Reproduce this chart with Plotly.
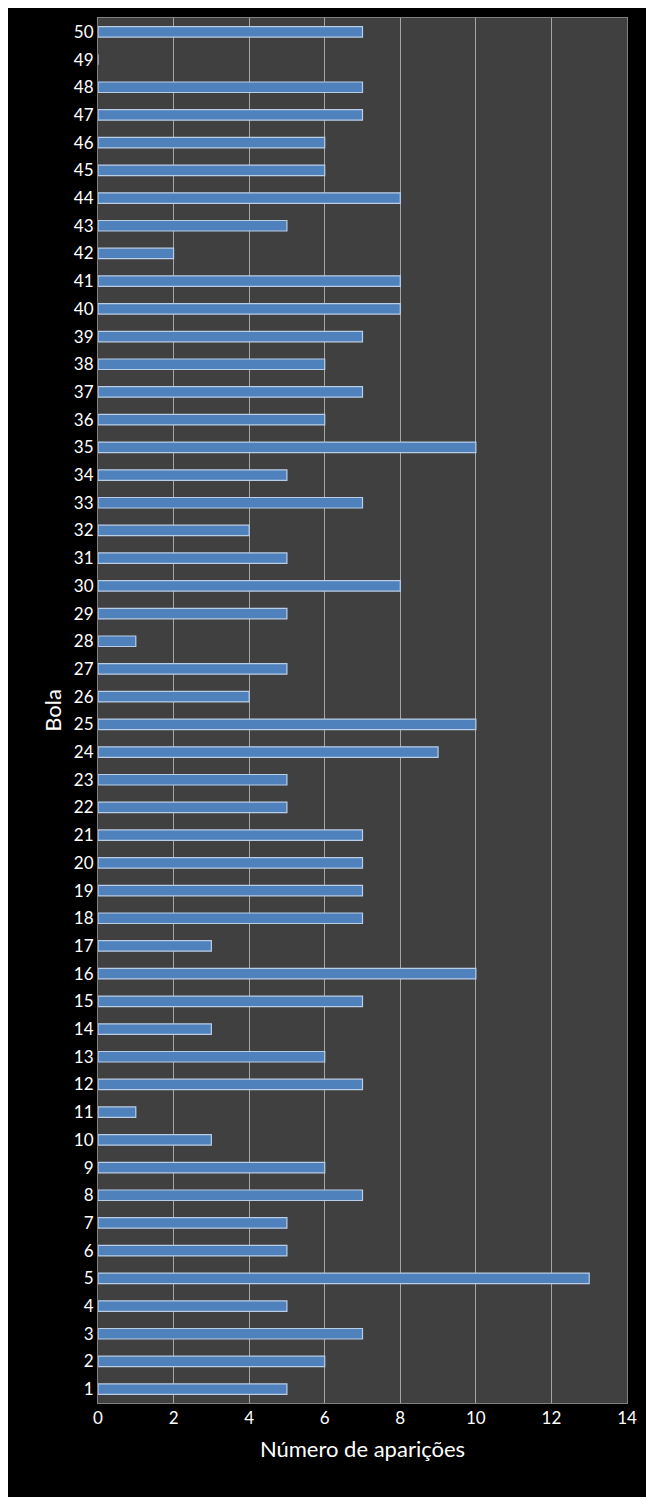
import plotly.graph_objects as go

bolas = list(range(1, 51))
aparicoes = [5, 6, 7, 5, 13, 5, 5, 7, 6, 3,
             1, 7, 6, 3, 7, 10, 3, 7, 7, 7,
             7, 5, 5, 9, 10, 4, 5, 1, 5, 8,
             5, 4, 7, 5, 10, 6, 7, 6, 7, 8,
             8, 2, 5, 8, 6, 6, 7, 7, 0, 7]
x_ticks = [0, 2, 4, 6, 8, 10, 12, 14]

fig = go.Figure(go.Bar(
    y=bolas, x=aparicoes, orientation="h",
    marker=dict(color="#4F81BD", line=dict(color="#B9CDE5", width=1.2)),
))
fig.update_layout(
    width=654, height=1497,
    paper_bgcolor="black", plot_bgcolor="#404040",
    margin=dict(l=90, r=35, t=10, b=102),
    bargap=0.62, showlegend=False,
    font=dict(family="Lato, Liberation Sans, sans-serif", color="white", size=17),
)
fig.update_xaxes(range=[0, 14], tickvals=x_ticks, showgrid=True, gridcolor="#A6A6A6",
                 gridwidth=1, zeroline=False, showline=True, linecolor="#808080", mirror=True,
                 title=dict(text="Número de aparições", font=dict(size=22), standoff=14),
                 ticks="", tickfont=dict(size=17))
fig.update_yaxes(range=[0.5, 50.5], tickvals=bolas, showgrid=False, zeroline=False,
                 showline=True, linecolor="#808080", mirror=True,
                 title=dict(text="Bola", font=dict(size=22), standoff=6),
                 ticks="", tickfont=dict(size=17))
fig.write_html("out.html")
